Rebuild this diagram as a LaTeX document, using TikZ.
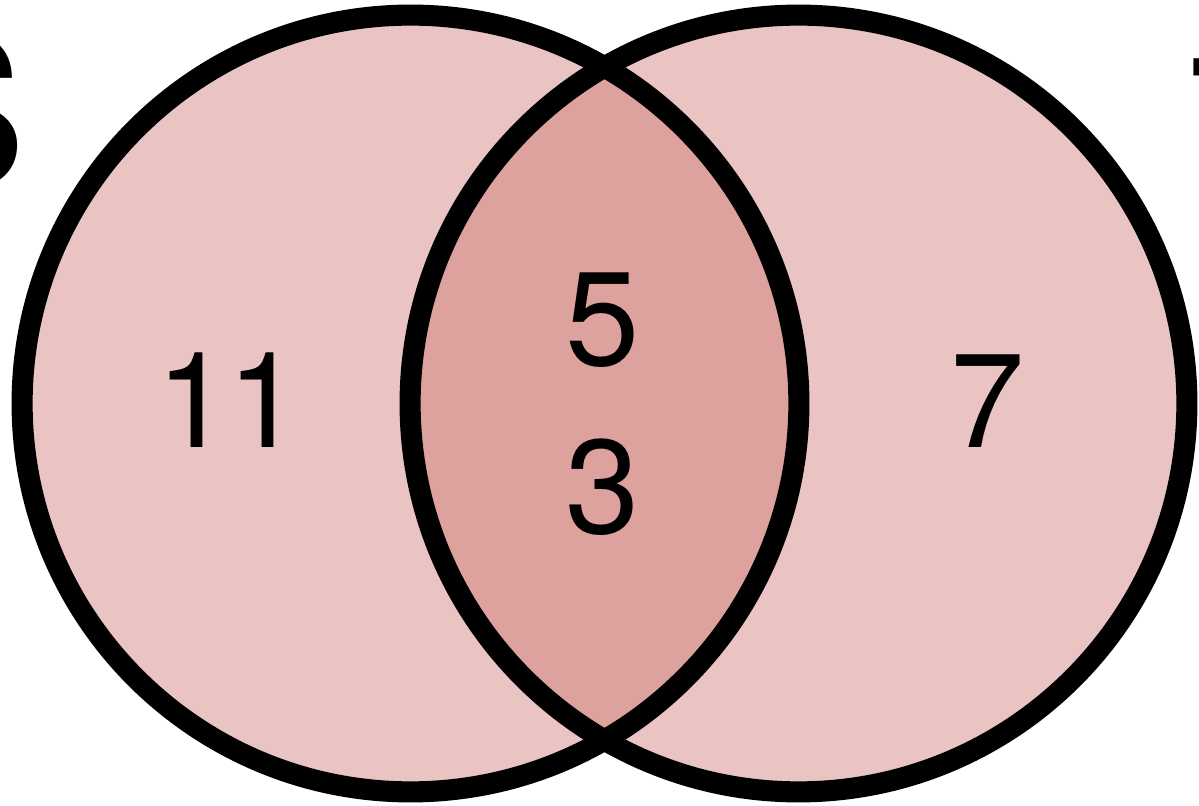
\documentclass[tikz,border=0pt]{standalone}
\usepackage{fontspec}
\setmainfont{TeX Gyre Heros}
\definecolor{setfill}{RGB}{233,196,194}
\definecolor{bothfill}{RGB}{221,162,157}
\tikzset{
  ring/.style={draw=black, line width=15pt},
  count/.style={anchor=base, inner sep=0pt, font=\fontsize{95}{100}\selectfont},
  setname/.style={anchor=base west, inner sep=0pt, font=\fontsize{149}{150}\selectfont}
}
\begin{document}
\begin{tikzpicture}[x=0.025cm, y=-0.025cm]
  \useasboundingbox (0,0) rectangle (1199,806);
  \clip (0,0) rectangle (1199,806);
  \coordinate (cA) at (410.5,403.5);
  \coordinate (cB) at (798.5,403.5);
  \fill[setfill] (cA) circle[radius=388.4];
  \fill[setfill] (cB) circle[radius=388.4];
  \begin{scope}
    \clip (cA) circle[radius=388.4];
    \fill[bothfill] (cB) circle[radius=388.4];
  \end{scope}
  \draw[ring] (cA) circle[radius=388.4];
  \draw[ring] (cB) circle[radius=388.4];
  \node[count] (onlyA) at (229,448) {1\kern-0.1cm 1};
  \node[count] (bothA) at (603,366) {5};
  \node[count] (bothB) at (603,534) {3};
  \node[count] (onlyB) at (988,448) {7};
  \node[setname] (nameA) at (-113,188) {S};
  \node[setname] (nameB) at (1189,212) {T};
\end{tikzpicture}
\end{document}
